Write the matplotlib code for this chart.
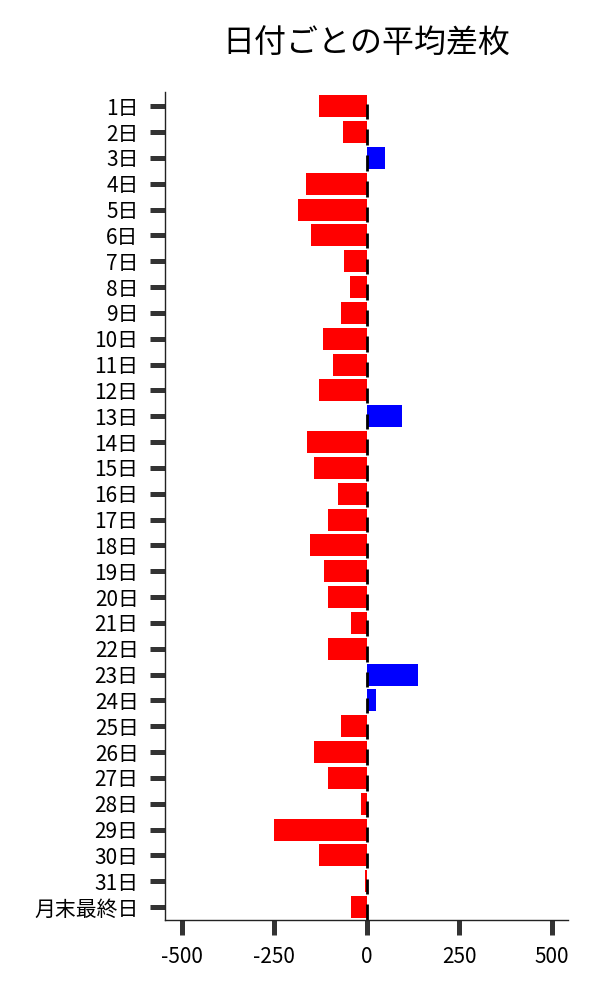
import matplotlib
matplotlib.use("Agg")
import matplotlib.pyplot as plt
import numpy as np

plt.rcParams['font.family'] = ['Noto Sans CJK JP', 'DejaVu Sans']

title = "日付ごとの平均差枚"
days = [f"{i}日" for i in range(1, 32)] + ["月末最終日"]
values = [-130, -65, 49, -165, -186, -151, -62, -46, -70, -119,
          -92, -130, 97, -162, -143, -76, -103, -154, -114, -105,
          -43, -103, 140, 26, -68, -141, -105, -14, -249, -130,
          -4, -41]
xticks = [-500, -250, 0, 250, 500]

fig = plt.figure(figsize=(6, 10), dpi=100)
ax = fig.add_axes([0.275, 0.08, 0.672, 0.828])

y = np.arange(len(days))
colors = ['blue' if v > 0 else 'red' for v in values]
ax.barh(y, values, height=0.85, color=colors)
ax.vlines(np.zeros(len(days)), y - 0.1, y + 0.5, colors='black', linewidth=2)

ax.set_yticks(y)
ax.set_yticklabels(days, fontsize=15)
ax.set_xticks(xticks)
ax.set_xticklabels([str(t) for t in xticks], fontsize=15)
ax.set_xlim(-545, 545)
ax.set_ylim(len(days) - 0.5, -0.55)

for s in ['top', 'right']:
    ax.spines[s].set_visible(False)
for s in ['left', 'bottom']:
    ax.spines[s].set_color('#222222')
    ax.spines[s].set_linewidth(1.0)
ax.tick_params(axis='both', length=11, width=3.6, color='#333333', pad=8)

ax.set_title(title, fontsize=23, pad=28)

fig.savefig("out.png", dpi=100)
